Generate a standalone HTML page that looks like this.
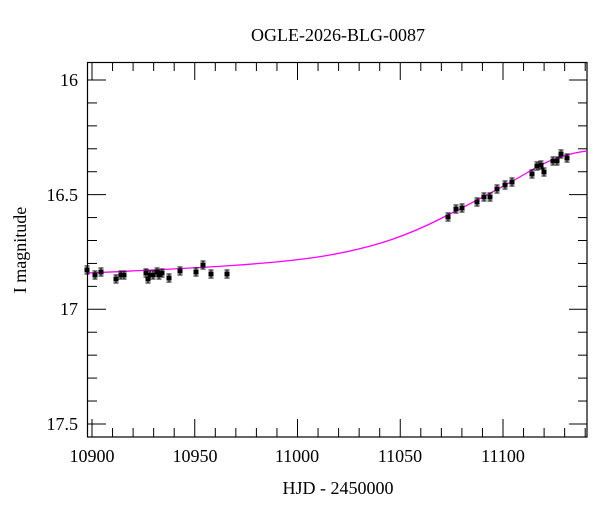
<!DOCTYPE html>
<html><head><style>
body{margin:0;background:#fff;}
svg text{font-family:"Liberation Serif",serif;fill:#000;}
</style></head><body>
<svg width="600" height="512" viewBox="0 0 600 512" xmlns="http://www.w3.org/2000/svg">
<text x="338" y="41" font-size="18" text-anchor="middle">OGLE-2026-BLG-0087</text>
<g id="ticks" stroke="#000" stroke-width="1"></g>
<rect x="87.5" y="62.5" width="499.5" height="374.5" fill="none" stroke="#000" stroke-width="1.2"/>
<g font-size="18" text-anchor="end">
<text x="78" y="86">16</text>
<text x="78" y="201">16.5</text>
<text x="78" y="315">17</text>
<text x="78" y="430">17.5</text>
</g>
<g font-size="18" text-anchor="middle">
<text x="92" y="462">10900</text>
<text x="195" y="462">10950</text>
<text x="297" y="462">11000</text>
<text x="400" y="462">11050</text>
<text x="503" y="462">11100</text>
<text x="338" y="494">HJD - 2450000</text>
</g>
<text x="26" y="250" font-size="18" text-anchor="middle" transform="rotate(-90 26 250)">I magnitude</text>
<path fill="none" stroke="#f0f" stroke-width="1.3" d="M88,273 C200,268 280,264 330,255 S410,234 440,219 S510,183 530,171 S570,153 587,151"/>
<g id="pts"></g>
</svg>
<script>
const NS="http://www.w3.org/2000/svg";
const t=document.getElementById('ticks');
function L(x1,y1,x2,y2){const l=document.createElementNS(NS,'line');l.setAttribute('x1',x1);l.setAttribute('y1',y1);l.setAttribute('x2',x2);l.setAttribute('y2',y2);t.appendChild(l);}
for(let i=0;i<=15;i++){const y=80+i*0.1*229.3;const len=(i%5==0)?18:9;L(88,y,88+len,y);L(587,y,587-len,y);}
for(let d=10900;d<=11140;d+=10){const x=92+(d-10900)*2.055;const len=(d%50==0)?18:9;L(x,437,x,437-len);L(x,62,x,62+len);}
const P=[[87,270],[95,275],[101,272],[116,279],[121,275],[124,275],[146,273],[148,279],[150,275],[153,275],[157,272],[159,275],[162,273],[169,278],[180,271],[196,272],[203,265],[211,274],[227,274],
[448,217],[456,209],[462,208],[477,202],[484,197],[490,197],[497,189],[505,185],[512,182],[532,174],[537,166],[541,165],[544,172],[553,161],[557,161],[561,154],[567,158]];
const g=document.getElementById('pts');
for(const [x,y] of P){
 g.innerHTML+=`<line x1="${x}" y1="${y-4}" x2="${x}" y2="${y+4}" stroke="#000"/><line x1="${x-2.5}" y1="${y-4}" x2="${x+2.5}" y2="${y-4}" stroke="#000"/><line x1="${x-2.5}" y1="${y+4}" x2="${x+2.5}" y2="${y+4}" stroke="#000"/><rect x="${x-2.5}" y="${y-2.5}" width="5" height="5" fill="#000"/>`;
}
</script>
</body></html>
